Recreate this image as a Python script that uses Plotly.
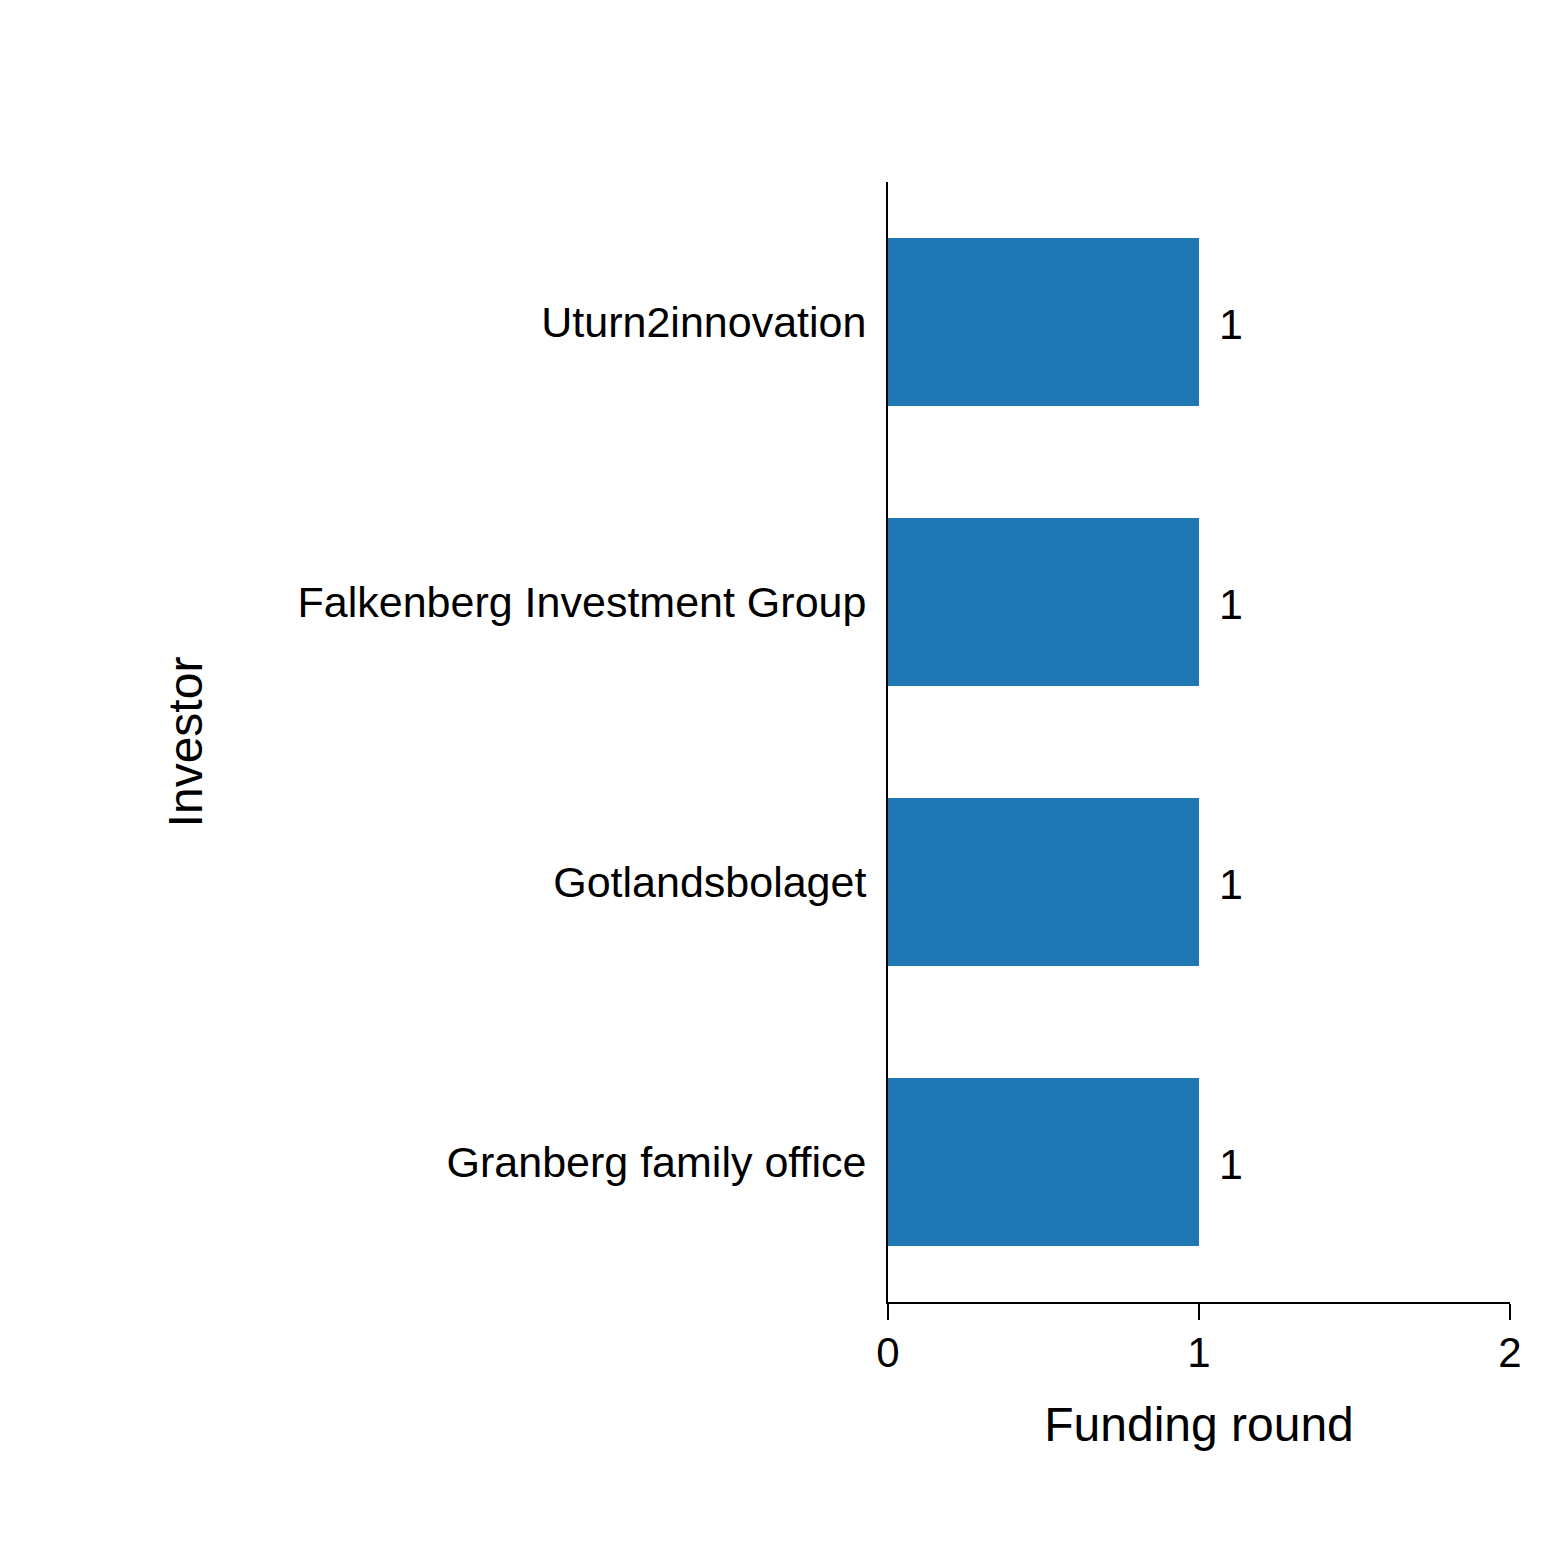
import plotly.graph_objects as go

# investors, top to bottom as shown
investors = ["Uturn2innovation", "Falkenberg Investment Group",
             "Gotlandsbolaget", "Granberg family office"]
rounds = [1, 1, 1, 1]

bar_color = "#1f77b4"
font_name = "Liberation Sans, Arial, sans-serif"

fig = go.Figure(go.Bar(
    x=rounds,
    y=investors,
    orientation="h",
    marker=dict(color=bar_color, line=dict(width=0)),
    width=0.6,
))

# value labels to the right of each bar
for inv, val in zip(investors, rounds):
    fig.add_annotation(x=val, y=inv, text=str(val), showarrow=False,
                       xanchor="left", xshift=18, yshift=-2,
                       font=dict(size=43, color="black", family=font_name))

fig.update_layout(
    width=1560, height=1564,
    margin=dict(l=880, r=58, t=174, b=270),
    plot_bgcolor="white", paper_bgcolor="white",
    font=dict(family=font_name, color="black"),
    showlegend=False,
    xaxis=dict(
        range=[0, 2], dtick=1, tick0=0,
        showgrid=False, zeroline=False,
        showline=True, linecolor="black", linewidth=2,
        ticks="outside", ticklen=16, tickwidth=2, tickcolor="black",
        tickfont=dict(size=42), ticklabelstandoff=-3,
        title=dict(text="Funding round", font=dict(size=48), standoff=32),
    ),
    yaxis=dict(
        range=[3.5, -0.5],
        showgrid=False, zeroline=False,
        showline=True, linecolor="black", linewidth=2,
        ticks="", ticklabelstandoff=11,
        tickfont=dict(size=43),
        title=dict(text="Investor", font=dict(size=48), standoff=80),
    ),
)

fig.write_html("out.html")
